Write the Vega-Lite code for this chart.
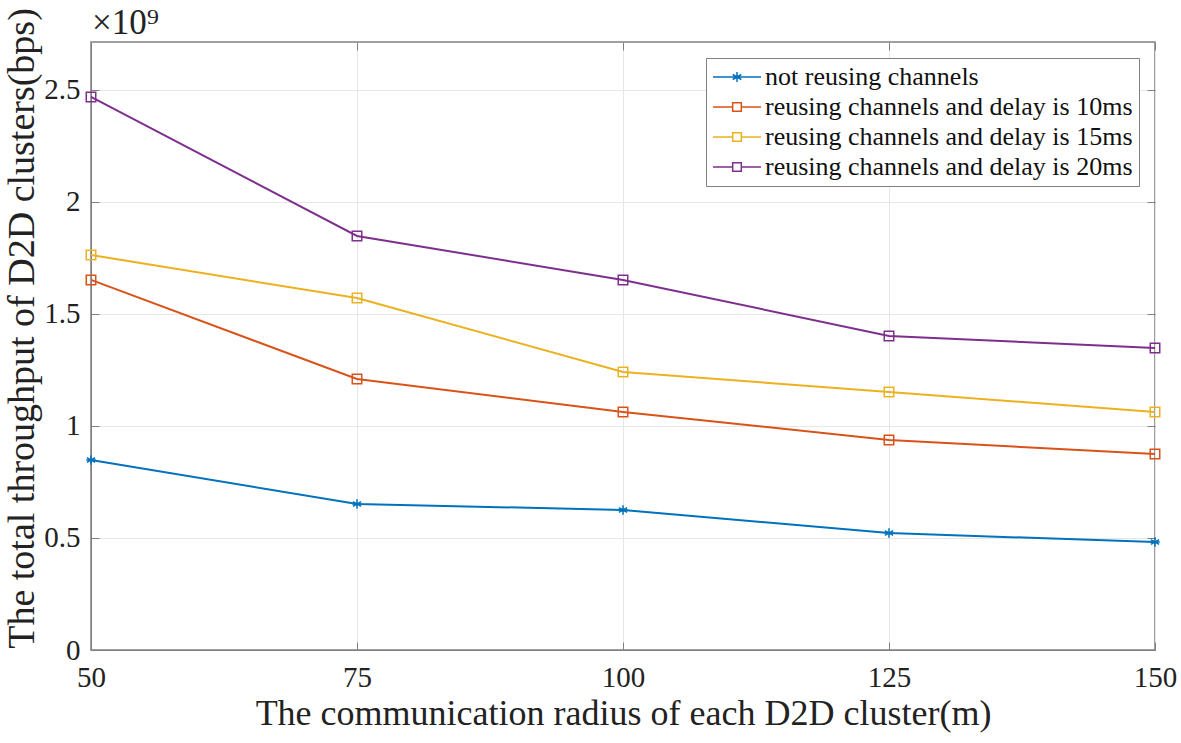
{
  "$schema": "https://vega.github.io/schema/vega-lite/v6.json",
  "width": 1064,
  "height": 608,
  "autosize": {"type": "none"},
  "padding": {"left": 91, "top": 42, "right": 26, "bottom": 93},
  "background": "white",
  "title": {
    "text": "×10⁹",
    "anchor": "start",
    "frame": "group",
    "font": "Liberation Serif",
    "fontSize": 35,
    "fontWeight": "normal",
    "color": "#222222",
    "offset": -33,
    "dx": 1
  },
  "config": {
    "font": "Liberation Serif",
    "view": {"stroke": "#808080", "strokeWidth": 1.5},
    "axis": {
      "labelFont": "Liberation Serif",
      "titleFont": "Liberation Serif",
      "labelColor": "#222222",
      "titleColor": "#222222",
      "titleFontWeight": "normal",
      "domainColor": "#808080",
      "tickColor": "#808080",
      "gridColor": "#e6e6e6",
      "gridWidth": 1,
      "labelFlush": false
    }
  },
  "data": {
    "values": [
      {"radius": 50, "throughput": 0.848, "series": "not reusing channels"},
      {"radius": 75, "throughput": 0.652, "series": "not reusing channels"},
      {"radius": 100, "throughput": 0.625, "series": "not reusing channels"},
      {"radius": 125, "throughput": 0.522, "series": "not reusing channels"},
      {"radius": 150, "throughput": 0.482, "series": "not reusing channels"},
      {"radius": 50, "throughput": 1.652, "series": "reusing channels and delay is 10ms"},
      {"radius": 75, "throughput": 1.21, "series": "reusing channels and delay is 10ms"},
      {"radius": 100, "throughput": 1.0625, "series": "reusing channels and delay is 10ms"},
      {"radius": 125, "throughput": 0.9375, "series": "reusing channels and delay is 10ms"},
      {"radius": 150, "throughput": 0.875, "series": "reusing channels and delay is 10ms"},
      {"radius": 50, "throughput": 1.763, "series": "reusing channels and delay is 15ms"},
      {"radius": 75, "throughput": 1.571, "series": "reusing channels and delay is 15ms"},
      {"radius": 100, "throughput": 1.241, "series": "reusing channels and delay is 15ms"},
      {"radius": 125, "throughput": 1.152, "series": "reusing channels and delay is 15ms"},
      {"radius": 150, "throughput": 1.0625, "series": "reusing channels and delay is 15ms"},
      {"radius": 50, "throughput": 2.469, "series": "reusing channels and delay is 20ms"},
      {"radius": 75, "throughput": 1.848, "series": "reusing channels and delay is 20ms"},
      {"radius": 100, "throughput": 1.652, "series": "reusing channels and delay is 20ms"},
      {"radius": 125, "throughput": 1.402, "series": "reusing channels and delay is 20ms"},
      {"radius": 150, "throughput": 1.348, "series": "reusing channels and delay is 20ms"}
    ]
  },
  "resolve": {
    "scale": {"color": "independent", "shape": "independent"},
    "legend": {"color": "independent", "shape": "independent"},
    "axis": {"x": "independent", "y": "independent"}
  },
  "layer": [
    {
      "mark": {"type": "line", "strokeWidth": 2},
      "encoding": {
        "x": {
          "field": "radius", "type": "quantitative",
          "scale": {"domain": [50, 150], "nice": false, "zero": false},
          "axis": {
            "values": [50, 75, 100, 125, 150],
            "title": "The communication radius of each D2D cluster(m)",
            "labelFontSize": 29, "titleFontSize": 36,
            "tickSize": -8, "labelPadding": 21, "titlePadding": 4,
            "grid": true, "domain": true
          }
        },
        "y": {
          "field": "throughput", "type": "quantitative",
          "scale": {"domain": [0, 2.714], "nice": false},
          "axis": {
            "values": [0, 0.5, 1, 1.5, 2, 2.5],
            "format": "~g",
            "title": "The total throughput of D2D clusters(bps)",
            "labelFontSize": 29, "titleFontSize": 38,
            "tickSize": -8, "labelPadding": 19, "titlePadding": 2,
            "titleY": 286,
            "grid": true, "domain": true
          }
        },
        "color": {
          "field": "series", "type": "nominal",
          "scale": {
            "domain": ["not reusing channels", "reusing channels and delay is 10ms", "reusing channels and delay is 15ms", "reusing channels and delay is 20ms"],
            "range": ["#0072BD", "#D95319", "#EDB120", "#7E2F8E"]
          },
          "legend": null
        }
      }
    },
    {
      "mark": {"type": "point", "filled": false, "strokeWidth": 1.5, "size": 90, "opacity": 1},
      "encoding": {
        "x": {
          "field": "radius", "type": "quantitative",
          "axis": {"orient": "top", "values": [50, 75, 100, 125, 150], "labels": false, "title": null, "tickSize": -8, "grid": false, "domain": false}
        },
        "y": {
          "field": "throughput", "type": "quantitative",
          "axis": {"orient": "right", "values": [0, 0.5, 1, 1.5, 2, 2.5], "labels": false, "title": null, "tickSize": -8, "grid": false, "domain": false}
        },
        "color": {
          "field": "series", "type": "nominal",
          "scale": {
            "domain": ["not reusing channels", "reusing channels and delay is 10ms", "reusing channels and delay is 15ms", "reusing channels and delay is 20ms"],
            "range": ["#0072BD", "#D95319", "#EDB120", "#7E2F8E"]
          },
          "legend": null
        },
        "shape": {
          "field": "series", "type": "nominal",
          "scale": {
            "domain": ["not reusing channels", "reusing channels and delay is 10ms", "reusing channels and delay is 15ms", "reusing channels and delay is 20ms"],
            "range": ["M0,-1V1M-0.87,-0.5L0.87,0.5M-0.87,0.5L0.87,-0.5M-1,0H1", "square", "square", "square"]
          },
          "legend": null
        }
      }
    },
    {
      "mark": {"type": "point", "filled": false, "strokeWidth": 1.5, "opacity": 0},
      "encoding": {
        "x": {"field": "radius", "type": "quantitative", "axis": null},
        "y": {"field": "throughput", "type": "quantitative", "axis": null},
        "color": {
          "field": "series", "type": "nominal",
          "scale": {
            "domain": ["not reusing channels", "reusing channels and delay is 10ms", "reusing channels and delay is 15ms", "reusing channels and delay is 20ms"],
            "range": ["#0072BD", "#D95319", "#EDB120", "#7E2F8E"]
          },
          "legend": {
            "title": null,
            "orient": "none",
            "legendX": 615,
            "legendY": 16,
            "padding": 6,
            "strokeColor": "#808080",
            "fillColor": "white",
            "labelFont": "Liberation Serif",
            "labelFontSize": 26,
            "labelColor": "#111111",
            "labelLimit": 600,
            "symbolSize": 576,
            "symbolStrokeWidth": 1.5,
            "symbolOffset": 12,
            "labelOffset": 15,
            "rowPadding": 4,
            "symbolOpacity": 1,
            "symbolFillColor": "transparent",
            "encode": {"symbols": {"update": {"opacity": {"value": 1}, "fill": {"value": "transparent"}}}}
          }
        },
        "shape": {
          "field": "series", "type": "nominal",
          "scale": {
            "domain": ["not reusing channels", "reusing channels and delay is 10ms", "reusing channels and delay is 15ms", "reusing channels and delay is 20ms"],
            "range": [
              "M-2,0H2M0,-0.42V0.42M-0.36,-0.21L0.36,0.21M-0.36,0.21L0.36,-0.21",
              "M-2,0H-0.36M0.36,0H2M-0.36,-0.36H0.36V0.36H-0.36Z",
              "M-2,0H-0.36M0.36,0H2M-0.36,-0.36H0.36V0.36H-0.36Z",
              "M-2,0H-0.36M0.36,0H2M-0.36,-0.36H0.36V0.36H-0.36Z"
            ]
          },
          "legend": {
            "title": null,
            "orient": "none",
            "legendX": 615,
            "legendY": 16,
            "padding": 6,
            "strokeColor": "#808080",
            "fillColor": "white",
            "labelFont": "Liberation Serif",
            "labelFontSize": 26,
            "labelColor": "#111111",
            "labelLimit": 600,
            "symbolSize": 576,
            "symbolStrokeWidth": 1.5,
            "symbolOffset": 12,
            "labelOffset": 15,
            "rowPadding": 4,
            "symbolOpacity": 1,
            "symbolFillColor": "transparent",
            "encode": {"symbols": {"update": {"opacity": {"value": 1}, "fill": {"value": "transparent"}}}}
          }
        }
      }
    }
  ]
}
